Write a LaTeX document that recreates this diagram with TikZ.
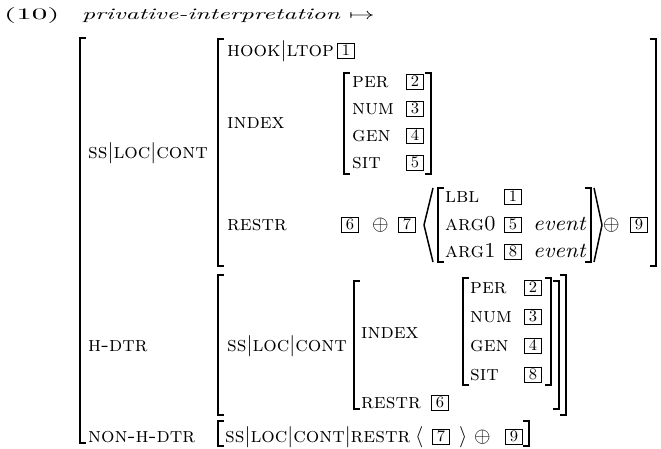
\documentclass[tikz,border=0pt]{standalone}
\usepackage{graphicx}
\usepackage{amssymb}
\newcommand\sxl{2.12}
\newcommand\syl{2.12}
\newcommand\SC[1]{\scalebox{\sxl}[\syl]{\textsc{#1}}}
\newcommand\RM[1]{\scalebox{\sxl}[\syl]{#1}}
\newcommand\IT[1]{\scalebox{2.3}[\syl]{\textit{#1}}}
\newcommand\TG[1]{\scalebox{1.65}[1.6]{#1}}
\newcommand\BAR{$|$}
\tikzset{
  lab/.style={anchor=base west, inner sep=0pt},
  tag/.style={draw, line width=0.6pt, minimum width=17pt, minimum height=15pt, inner sep=0pt},
  brk/.style={line width=1.5pt, line cap=butt, line join=miter},
}
\newcommand\LBr[3]{\draw[brk] (#1+6,#2) -- (#1,#2) -- (#1,#3) -- (#1+6,#3);}
\newcommand\RBr[3]{\draw[brk] (#1-6,#2) -- (#1,#2) -- (#1,#3) -- (#1-6,#3);}
\begin{document}
\begin{tikzpicture}[x=1pt,y=-1pt]
\useasboundingbox (0,0) rectangle (661,448);
\clip (0,0) rectangle (661,448);
% title
\node[lab] (num) at (4,19) {\scalebox{3.1}[1.6]{(10)}};
\node[lab] (title) at (82,19) {\scalebox{2.55}[1.6]{\textit{privative-interpretation} $\mapsto$}};
% outer bracket
\LBr{80}{38}{443}
\RBr{667}{38}{443}
% row SS|LOC|CONT
\node[lab] (f1) at (88,158) {\SC{ss\BAR loc\BAR cont}};
\LBr{218}{39}{266}
\RBr{656}{39}{266}
\node[lab] (hook) at (227,56) {\SC{hook\BAR ltop}};
\node[tag] (t1a) at (346,50.5) {\TG{1}};
\node[lab] (index1) at (227,128) {\SC{index}};
\LBr{344}{73}{174}
\RBr{431}{73}{174}
\node[lab] (per1) at (352,87) {\SC{per}};
\node[lab] (num1) at (352,114) {\SC{num}};
\node[lab] (gen1) at (352,141) {\SC{gen}};
\node[lab] (sit1) at (352,168) {\SC{sit}};
\node[tag] (t2a) at (415,81.5) {\TG{2}};
\node[tag] (t3a) at (415,108.5) {\TG{3}};
\node[tag] (t4a) at (415,135.5) {\TG{4}};
\node[tag] (t5a) at (415,162.5) {\TG{5}};
% RESTR row
\node[lab] (restr1) at (227,230) {\SC{restr}};
\node[tag] (t6a) at (350,224.5) {\TG{6}};
\node[lab] (op1) at (372,230) {\RM{$\oplus$}};
\node[tag] (t7a) at (407,224.5) {\TG{7}};
\draw[brk, line join=round] (433,188) -- (424,225) -- (433,262);
\LBr{438}{188}{262}
\RBr{591}{188}{262}
\node[lab] (lbl) at (445,202) {\SC{lbl}};
\node[lab] (arg0) at (445,230) {\SC{arg0}};
\node[lab] (arg1) at (445,257) {\SC{arg1}};
\node[tag] (t1b) at (513,196.5) {\TG{1}};
\node[tag] (t5b) at (513,224.5) {\TG{5}};
\node[tag] (t8a) at (513,251.5) {\TG{8}};
\node[lab] (ev1) at (533,230) {\IT{event}};
\node[lab] (ev2) at (533,257) {\IT{event}};
\draw[brk, line join=round] (594,188) -- (602,225) -- (594,262);
\node[lab] (op2) at (603,230) {\RM{$\oplus$}};
\node[tag] (t9a) at (639,224.5) {\TG{9}};
% H-DTR row
\node[lab] (hdtr) at (88,351) {\SC{h-dtr}};
\LBr{218}{275}{415}
\RBr{566}{275}{415}
\node[lab] (f2) at (227,351) {\SC{ss\BAR loc\BAR cont}};
\LBr{354}{281}{409}
\RBr{559}{281}{409}
\node[lab] (index2) at (361,338) {\SC{index}};
\LBr{463}{278}{385}
\RBr{551}{278}{385}
\node[lab] (per2) at (470,293) {\SC{per}};
\node[lab] (num2) at (470,322) {\SC{num}};
\node[lab] (gen2) at (470,351) {\SC{gen}};
\node[lab] (sit2) at (470,380) {\SC{sit}};
\node[tag] (t2b) at (533,287.5) {\TG{2}};
\node[tag] (t3b) at (533,316.5) {\TG{3}};
\node[tag] (t4b) at (533,345.5) {\TG{4}};
\node[tag] (t8b) at (533,374.5) {\TG{8}};
\node[lab] (restr2) at (361,408) {\SC{restr}};
\node[tag] (t6b) at (440,402.5) {\TG{6}};
% NON-H-DTR row
\node[lab] (nhdtr) at (88,442) {\SC{non-h-dtr}};
\LBr{218}{421}{446}
\RBr{529}{421}{446}
\node[lab] (f3) at (225,442) {\SC{ss\BAR loc\BAR cont\BAR restr}};
\node[lab] (la) at (415,442) {\RM{$\langle$}};
\node[tag] (t7b) at (441,436.5) {\TG{7}};
\node[lab] (ra) at (459,442) {\RM{$\rangle$}};
\node[lab] (op3) at (474,442) {\RM{$\oplus$}};
\node[tag] (t9b) at (514,436.5) {\TG{9}};
\end{tikzpicture}
\end{document}
